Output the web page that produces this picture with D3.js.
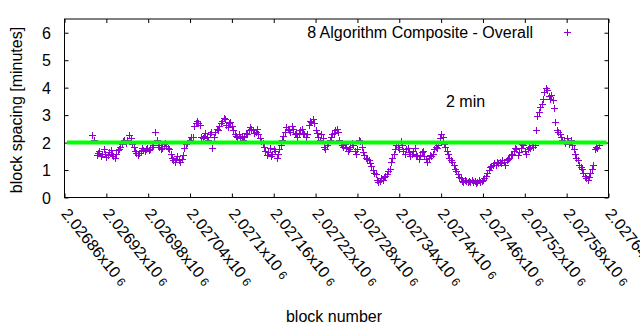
<!DOCTYPE html>
<html>
<head>
<meta charset="utf-8">
<script src="https://cdn.jsdelivr.net/npm/d3@7"></script>
<style>
  body { margin: 0; background: #fff; }
  text { font-family: "Liberation Sans", Arial, sans-serif; fill: #000; }
</style>
</head>
<body>
<div id="chart"></div>
<script>
// ------------------------------------------------------------
// Data
// ------------------------------------------------------------
const blockNumbers = [
  2026900, 2026903, 2026906, 2026908, 2026910, 2026912, 2026914, 2026916, 2026918, 2026920,
  2026922, 2026924, 2026926, 2026928, 2026930, 2026932, 2026934, 2026936, 2026938, 2026940,
  2026942, 2026944, 2026946, 2026948, 2026950, 2026953, 2026955, 2026957, 2026959, 2026961,
  2026963, 2026965, 2026967, 2026969, 2026971, 2026973, 2026975, 2026977, 2026979, 2026981,
  2026983, 2026985, 2026987, 2026990, 2026992, 2026994, 2026996, 2026998, 2027000, 2027002,
  2027004, 2027006, 2027008, 2027010, 2027012, 2027014, 2027016, 2027018, 2027020, 2027022,
  2027024, 2027026, 2027028, 2027030, 2027032, 2027034, 2027036, 2027038, 2027040, 2027042,
  2027044, 2027046, 2027048, 2027050, 2027052, 2027054, 2027056, 2027058, 2027060, 2027062,
  2027064, 2027066, 2027068, 2027070, 2027072, 2027074, 2027076, 2027078, 2027080, 2027082,
  2027084, 2027086, 2027088, 2027090, 2027092, 2027094, 2027096, 2027098, 2027100, 2027102,
  2027104, 2027106, 2027108, 2027110, 2027112, 2027114, 2027116, 2027118, 2027120, 2027122,
  2027124, 2027126, 2027128, 2027130, 2027132, 2027134, 2027136, 2027138, 2027140, 2027142,
  2027144, 2027146, 2027148, 2027150, 2027152, 2027154, 2027156, 2027158, 2027160, 2027162,
  2027164, 2027166, 2027168, 2027170, 2027172, 2027174, 2027176, 2027178, 2027180, 2027182,
  2027184, 2027186, 2027188, 2027190, 2027192, 2027194, 2027196, 2027198, 2027200, 2027202,
  2027204, 2027206, 2027208, 2027210, 2027212, 2027214, 2027216, 2027218, 2027220, 2027222,
  2027224, 2027226, 2027228, 2027230, 2027232, 2027234, 2027236, 2027238, 2027240, 2027242,
  2027244, 2027246, 2027248, 2027250, 2027252, 2027254, 2027256, 2027258, 2027260, 2027262,
  2027264, 2027266, 2027268, 2027270, 2027272, 2027274, 2027276, 2027278, 2027280, 2027282,
  2027284, 2027286, 2027288, 2027290, 2027292, 2027294, 2027296, 2027298, 2027300, 2027302,
  2027304, 2027306, 2027308, 2027310, 2027312, 2027314, 2027316, 2027318, 2027320, 2027322,
  2027324, 2027326, 2027328, 2027330, 2027332, 2027334, 2027336, 2027338, 2027340, 2027342,
  2027344, 2027346, 2027348, 2027350, 2027352, 2027354, 2027356, 2027358, 2027360, 2027362,
  2027364, 2027366, 2027368, 2027370, 2027372, 2027374, 2027376, 2027378, 2027380, 2027382,
  2027384, 2027386, 2027388, 2027390, 2027392, 2027394, 2027396, 2027398, 2027400, 2027402,
  2027404, 2027406, 2027408, 2027410, 2027412, 2027414, 2027416, 2027418, 2027420, 2027422,
  2027424, 2027426, 2027428, 2027430, 2027432, 2027434, 2027436, 2027438, 2027440, 2027442,
  2027444, 2027446, 2027448, 2027450, 2027452, 2027454, 2027456, 2027458, 2027460, 2027462,
  2027464, 2027466, 2027468, 2027470, 2027472, 2027474, 2027476, 2027478, 2027480, 2027482,
  2027484, 2027486, 2027488, 2027490, 2027492, 2027494, 2027496, 2027498, 2027500, 2027502,
  2027504, 2027506, 2027508, 2027510, 2027512, 2027514, 2027516, 2027518, 2027520, 2027522,
  2027524, 2027526, 2027528, 2027530, 2027532, 2027534, 2027536, 2027538, 2027540, 2027542,
  2027544, 2027546, 2027548, 2027550, 2027552, 2027554, 2027556, 2027558, 2027560, 2027562,
  2027564, 2027566, 2027568, 2027570, 2027572, 2027574, 2027576, 2027578, 2027580, 2027582,
  2027584, 2027586, 2027588, 2027590, 2027592, 2027594, 2027596, 2027598, 2027600, 2027602,
  2027604, 2027606, 2027608, 2027610, 2027612, 2027614, 2027616, 2027618, 2027620, 2027622,
  2027624, 2027626
];

const spacingMinutes = [
  2.28, 2.10, 1.55, 1.62, 1.70, 1.50, 1.58, 1.75, 1.60, 1.48,
  1.55, 1.65, 1.72, 1.60, 1.50, 1.45, 1.60, 1.72, 1.78, 1.85,
  1.95, 2.05, 2.10, 2.00, 2.08, 2.27, 2.15, 1.95, 1.85, 1.70,
  1.62, 1.55, 1.62, 1.70, 1.80, 1.72, 1.68, 1.75, 1.80, 1.72,
  1.78, 1.85, 1.90, 2.40, 2.10, 1.92, 1.85, 1.78, 1.80, 1.95,
  2.00, 1.88, 1.82, 1.75, 1.60, 1.45, 1.35, 1.30, 1.40, 1.50,
  1.35, 1.28, 1.40, 1.55, 1.80, 1.95, 2.00, 2.05, 2.10, 2.20,
  2.20, 2.62, 2.70, 2.78, 2.72, 2.65, 2.20, 2.15, 2.25, 2.35,
  2.20, 2.10, 2.30, 2.40, 1.80, 2.20, 2.40, 2.50, 2.45, 2.60,
  2.70, 2.80, 2.90, 2.85, 2.65, 2.55, 2.70, 2.75, 2.60, 2.45,
  2.30, 2.25, 2.20, 2.30, 2.15, 2.25, 2.10, 2.20, 2.35, 2.30,
  2.45, 2.55, 2.50, 2.45, 2.35, 2.40, 2.50, 2.30, 2.15, 2.05,
  2.00, 1.85, 1.70, 1.55, 1.65, 1.80, 1.50, 1.60, 1.75, 1.70,
  1.45, 1.60, 1.75, 1.90, 2.10, 2.25, 2.40, 2.55, 2.50, 2.45,
  2.40, 2.60, 2.50, 2.30, 2.35, 2.20, 2.30, 2.45, 2.50, 2.35,
  2.30, 2.20, 2.30, 2.65, 2.80, 2.75, 2.85, 2.70, 2.45, 2.35,
  2.20, 2.10, 2.30, 2.15, 1.85, 1.75, 1.90, 2.00, 2.10, 2.20,
  2.30, 2.35, 2.45, 2.50, 2.40, 2.10, 2.00, 1.90, 1.85, 1.95,
  1.80, 1.70, 1.75, 1.85, 2.00, 1.90, 1.70, 1.60, 1.75, 2.10,
  2.05, 1.85, 1.65, 1.55, 1.45, 1.40, 1.35, 1.25, 1.15, 1.00,
  0.90, 0.85, 0.65, 0.55, 0.60, 0.70, 0.65, 0.75, 0.80, 0.85,
  0.95, 1.05, 1.30, 1.45, 1.60, 1.75, 1.90, 1.85, 1.75, 2.05,
  1.90, 1.70, 1.60, 1.75, 1.80, 1.65, 1.50, 1.60, 1.70, 1.80,
  1.55, 1.50, 1.40, 1.55, 1.65, 1.70, 1.50, 1.40, 1.30, 1.45,
  1.55, 1.50, 1.60, 1.75, 1.85, 1.80, 1.90, 2.15, 2.30, 2.20,
  1.95, 1.85, 1.70, 1.60, 1.45, 1.35, 1.30, 1.20, 1.05, 0.95,
  0.85, 0.75, 0.70, 0.60, 0.55, 0.65, 0.60, 0.55, 0.60, 0.58,
  0.62, 0.55, 0.60, 0.52, 0.58, 0.62, 0.55, 0.60, 0.65, 0.70,
  0.80, 0.90, 1.00, 1.10, 1.15, 1.20, 1.25, 1.20, 1.30, 1.25,
  1.30, 1.25, 1.35, 1.30, 1.20, 1.35, 1.40, 1.45, 1.55, 1.60,
  1.70, 1.80, 1.75, 1.55, 1.65, 1.80, 1.95, 1.90, 1.70, 1.60,
  1.75, 1.85, 1.80, 1.90, 1.85, 1.90, 2.45, 2.95, 3.10, 3.30,
  3.40, 3.60, 3.85, 4.00, 3.90, 3.70, 3.60, 3.75, 3.55, 3.25,
  2.75, 2.45, 2.40, 2.30, 2.20, 2.10, 2.05, 2.00, 2.15, 2.05,
  1.95, 2.10, 1.90, 1.75, 1.60, 1.45, 1.35, 1.20, 1.10, 1.05,
  0.90, 0.80, 0.70, 0.65, 0.75, 0.90, 1.05, 1.20, 1.75, 1.85,
  1.80, 1.90
];

const targetMinutes = 2;
const yTicks = [0, 1, 2, 3, 4, 5, 6];
const xTicks = [2026860, 2026920, 2026980, 2027040, 2027100, 2027160, 2027220,
                2027280, 2027340, 2027400, 2027460, 2027520, 2027580, 2027640];
const xTickMantissas = ["2.02686", "2.02692", "2.02698", "2.02704", "2.0271", "2.02716", "2.02722",
                        "2.02728", "2.02734", "2.0274", "2.02746", "2.02752", "2.02758", "2.02764"];

// ------------------------------------------------------------
// Layout
// ------------------------------------------------------------
const width = 640;
const height = 330;
const plot = { left: 64.5, right: 608.5, top: 19, bottom: 197.5 };
const purple = "#9400d3";

const svg = d3.select("#chart")
  .append("svg")
  .attr("width", width)
  .attr("height", height)
  .style("display", "block");

svg.append("rect").attr("width", width).attr("height", height).attr("fill", "#fff");

const x = d3.scaleLinear().domain([2026860, 2027640]).range([plot.left, plot.right]);
const y = d3.scaleLinear().domain([0, 6.5]).range([plot.bottom, plot.top]);

// axes: ticks point inward, labels drawn separately
const tickLen = 4;
svg.append("g")
  .attr("transform", `translate(0,${plot.bottom})`)
  .call(d3.axisTop(x).tickValues(xTicks).tickSize(tickLen).tickFormat(""))
  .call(g => g.select(".domain").remove());
svg.append("g")
  .attr("transform", `translate(0,${plot.top})`)
  .call(d3.axisBottom(x).tickValues(xTicks).tickSize(tickLen).tickFormat(""))
  .call(g => g.select(".domain").remove());
svg.append("g")
  .attr("transform", `translate(${plot.left},0)`)
  .call(d3.axisRight(y).tickValues(yTicks).tickSize(tickLen).tickFormat(""))
  .call(g => g.select(".domain").remove());
svg.append("g")
  .attr("transform", `translate(${plot.right},0)`)
  .call(d3.axisLeft(y).tickValues(yTicks).tickSize(tickLen).tickFormat(""))
  .call(g => g.select(".domain").remove());
svg.selectAll(".tick line").attr("stroke", "#000").attr("stroke-width", 1);

// y tick labels
svg.append("g")
  .selectAll("text")
  .data(yTicks)
  .join("text")
  .attr("x", 51)
  .attr("y", d => y(d) + 6)
  .attr("text-anchor", "end")
  .attr("font-size", 16)
  .text(d => d);

// x tick labels, rotated
const xl = svg.append("g")
  .selectAll("text")
  .data(xTicks)
  .join("text")
  .attr("transform", d => `translate(${x(d) - 4},214) rotate(51)`)
  .attr("font-size", 16);
xl.append("tspan").text((d, i) => xTickMantissas[i] + "x10");
xl.append("tspan").attr("dx", 4).attr("font-size", 12).text("6");

// points
const plusSize = 3.5;
const pts = svg.append("g").attr("stroke", purple).attr("stroke-width", 1).attr("fill", "none");
pts.selectAll("path")
  .data(blockNumbers.map((b, i) => [b, spacingMinutes[i]]))
  .join("path")
  .attr("d", d => {
    const cx = Math.round(x(d[0])) + 0.5;
    const cy = Math.round(y(d[1])) + 0.5;
    return `M${cx - plusSize},${cy}H${cx + plusSize}M${cx},${cy - plusSize}V${cy + plusSize}`;
  });

// 2 minute target line
svg.append("line")
  .attr("x1", plot.left + 2.5)
  .attr("x2", plot.right - 2)
  .attr("y1", y(targetMinutes))
  .attr("y2", y(targetMinutes))
  .attr("stroke", "#00ff00")
  .attr("stroke-width", 4);

// border
svg.append("rect")
  .attr("x", plot.left)
  .attr("y", plot.top)
  .attr("width", plot.right - plot.left)
  .attr("height", plot.bottom - plot.top)
  .attr("fill", "none")
  .attr("stroke", "#000")
  .attr("stroke-width", 1);

// legend
svg.append("text")
  .attr("x", 533)
  .attr("y", 37.5)
  .attr("text-anchor", "end")
  .attr("font-size", 16)
  .text("8 Algorithm Composite - Overall");
svg.append("path")
  .attr("d", "M564,32.5H571M567.5,29V36")
  .attr("stroke", purple)
  .attr("stroke-width", 1);

// annotation
svg.append("text")
  .attr("x", 446)
  .attr("y", 107)
  .attr("font-size", 16)
  .text("2 min");

// axis titles
svg.append("text")
  .attr("x", 334)
  .attr("y", 322)
  .attr("text-anchor", "middle")
  .attr("font-size", 16)
  .text("block number");
svg.append("text")
  .attr("transform", "translate(22,110) rotate(-90)")
  .attr("text-anchor", "middle")
  .attr("font-size", 16)
  .text("block spacing [minutes]");
</script>
</body>
</html>
